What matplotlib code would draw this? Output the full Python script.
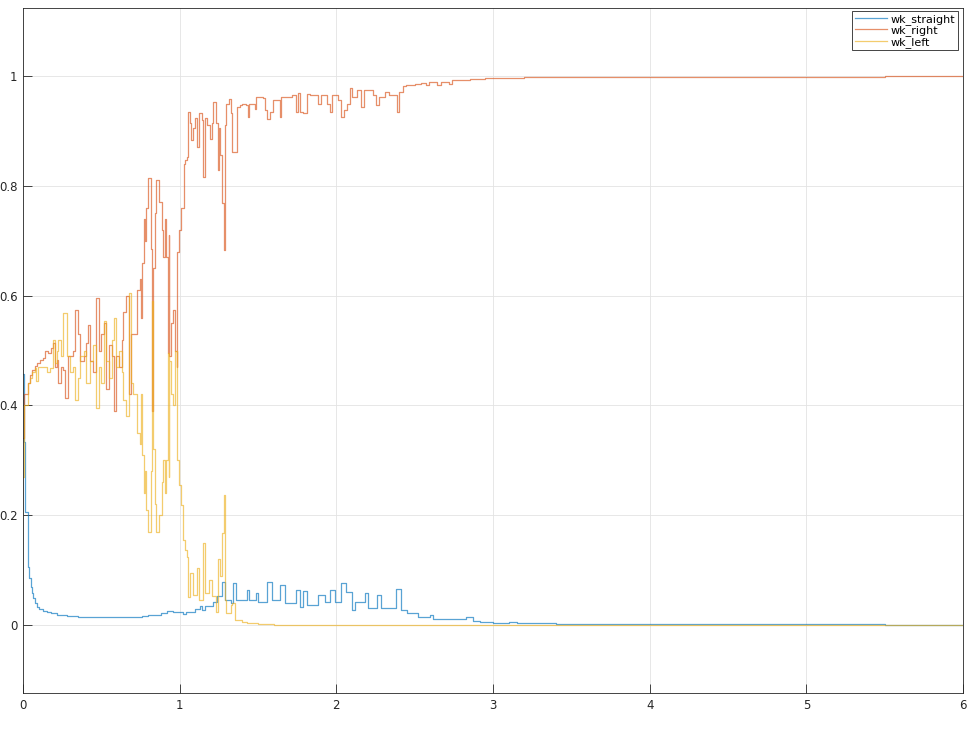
import matplotlib
matplotlib.use("Agg")
import matplotlib.pyplot as plt
import numpy as np

# ---- data (step breakpoints) ----
t_straight = [0.000, 0.008, 0.013, 0.030, 0.040, 0.048, 0.056, 0.066, 0.076, 0.088,
              0.105, 0.125, 0.150, 0.180, 0.220, 0.280, 0.350, 0.450, 0.600, 0.700,
              0.760, 0.800, 0.850, 0.880, 0.920, 0.960, 1.000, 1.020, 1.040, 1.100,
              1.130, 1.140, 1.160, 1.210, 1.240, 1.270, 1.290, 1.330, 1.340, 1.360,
              1.430, 1.445, 1.485, 1.500, 1.555, 1.590, 1.640, 1.670, 1.745, 1.765,
              1.790, 1.815, 1.880, 1.925, 1.960, 1.990, 2.030, 2.060, 2.100, 2.120,
              2.180, 2.200, 2.260, 2.285, 2.380, 2.410, 2.450, 2.520, 2.600, 2.620,
              2.830, 2.870, 2.920, 3.000, 3.100, 3.150, 3.400, 4.000, 5.000, 5.500, 6.000]
wk_straight = [0.458, 0.334, 0.206, 0.106, 0.085, 0.070, 0.058, 0.049, 0.040, 0.033,
               0.029, 0.026, 0.023, 0.021, 0.018, 0.016, 0.015, 0.014, 0.014, 0.015,
               0.016, 0.018, 0.019, 0.022, 0.025, 0.024, 0.024, 0.020, 0.024, 0.029,
               0.035, 0.028, 0.035, 0.042, 0.052, 0.079, 0.045, 0.040, 0.076, 0.046,
               0.064, 0.046, 0.058, 0.042, 0.079, 0.045, 0.073, 0.040, 0.064, 0.033,
               0.061, 0.036, 0.055, 0.042, 0.064, 0.042, 0.076, 0.060, 0.027, 0.042,
               0.058, 0.030, 0.055, 0.030, 0.065, 0.027, 0.021, 0.015, 0.019, 0.011,
               0.015, 0.008, 0.006, 0.004, 0.005, 0.003, 0.002, 0.001, 0.001, 0.0005, 0.000]

t_right = [0.000, 0.006, 0.020, 0.030, 0.045, 0.060, 0.075, 0.090, 0.110, 0.130,
           0.140, 0.160, 0.180, 0.190, 0.205, 0.215, 0.225, 0.240, 0.255, 0.270,
           0.285, 0.320, 0.335, 0.350, 0.365, 0.390, 0.405, 0.415, 0.425, 0.445,
           0.465, 0.485, 0.500, 0.515, 0.530, 0.550, 0.570, 0.580, 0.595, 0.615,
           0.630, 0.640, 0.655, 0.675, 0.690, 0.725, 0.745, 0.752, 0.760, 0.770,
           0.778, 0.785, 0.800, 0.815, 0.822, 0.828, 0.840, 0.850, 0.870, 0.885,
           0.895, 0.905, 0.915, 0.925, 0.930, 0.935, 0.945, 0.960, 0.970, 0.980,
           0.985, 0.995, 1.010, 1.025, 1.035, 1.045, 1.055, 1.065, 1.075, 1.085,
           1.100, 1.110, 1.125, 1.140, 1.150, 1.160, 1.175, 1.195, 1.205, 1.215,
           1.230, 1.242, 1.250, 1.260, 1.272, 1.280, 1.290, 1.297, 1.315, 1.325,
           1.335, 1.365, 1.385, 1.400, 1.425, 1.435, 1.445, 1.480, 1.490, 1.530,
           1.545, 1.555, 1.575, 1.595, 1.640, 1.650, 1.720, 1.740, 1.755, 1.770,
           1.790, 1.810, 1.830, 1.880, 1.900, 1.940, 1.960, 1.975, 2.010, 2.030,
           2.050, 2.065, 2.085, 2.100, 2.130, 2.155, 2.175, 2.235, 2.250, 2.270,
           2.310, 2.335, 2.385, 2.400, 2.425, 2.445, 2.500, 2.540, 2.570, 2.590,
           2.640, 2.670, 2.720, 2.740, 2.800, 2.850, 2.900, 2.950, 3.000, 3.100,
           3.200, 3.400, 3.600, 4.000, 4.500, 5.000, 5.200, 5.500, 6.000]
wk_right = [0.340, 0.420, 0.420, 0.440, 0.455, 0.465, 0.472, 0.478, 0.482, 0.487,
            0.500, 0.496, 0.505, 0.513, 0.470, 0.482, 0.440, 0.470, 0.465, 0.413,
            0.490, 0.500, 0.574, 0.530, 0.480, 0.490, 0.513, 0.547, 0.480, 0.460,
            0.595, 0.500, 0.530, 0.550, 0.430, 0.510, 0.490, 0.390, 0.490, 0.470,
            0.520, 0.570, 0.600, 0.420, 0.530, 0.610, 0.630, 0.560, 0.660, 0.740,
            0.700, 0.760, 0.815, 0.685, 0.390, 0.650, 0.750, 0.810, 0.770, 0.720,
            0.670, 0.740, 0.670, 0.495, 0.710, 0.490, 0.550, 0.574, 0.500, 0.470,
            0.680, 0.720, 0.760, 0.840, 0.847, 0.853, 0.935, 0.914, 0.883, 0.905,
            0.923, 0.871, 0.932, 0.920, 0.817, 0.923, 0.910, 0.886, 0.914, 0.953,
            0.914, 0.829, 0.905, 0.856, 0.768, 0.683, 0.910, 0.950, 0.959, 0.932,
            0.862, 0.944, 0.947, 0.950, 0.947, 0.926, 0.950, 0.940, 0.962, 0.960,
            0.938, 0.921, 0.935, 0.956, 0.926, 0.962, 0.965, 0.935, 0.970, 0.935,
            0.932, 0.968, 0.965, 0.950, 0.965, 0.950, 0.935, 0.965, 0.956, 0.926,
            0.938, 0.950, 0.978, 0.962, 0.975, 0.944, 0.975, 0.965, 0.947, 0.962,
            0.971, 0.965, 0.935, 0.971, 0.982, 0.984, 0.985, 0.988, 0.984, 0.990,
            0.984, 0.990, 0.986, 0.993, 0.992, 0.994, 0.995, 0.996, 0.997, 0.996,
            0.998, 0.998, 0.999, 0.999, 0.999, 0.998, 0.999, 1.000, 1.000]

t_left = [0.000, 0.006, 0.020, 0.030, 0.045, 0.060, 0.075, 0.085, 0.095, 0.130,
          0.150, 0.170, 0.190, 0.205, 0.215, 0.225, 0.240, 0.255, 0.280, 0.300,
          0.320, 0.335, 0.350, 0.365, 0.390, 0.405, 0.425, 0.445, 0.465, 0.485,
          0.500, 0.515, 0.530, 0.550, 0.570, 0.580, 0.595, 0.615, 0.630, 0.640,
          0.655, 0.675, 0.690, 0.705, 0.725, 0.745, 0.752, 0.760, 0.770, 0.778,
          0.785, 0.800, 0.815, 0.822, 0.828, 0.840, 0.850, 0.870, 0.885, 0.895,
          0.905, 0.915, 0.925, 0.930, 0.935, 0.945, 0.960, 0.970, 0.980, 0.985,
          0.995, 1.010, 1.020, 1.035, 1.045, 1.055, 1.065, 1.085, 1.110, 1.125,
          1.150, 1.160, 1.185, 1.205, 1.230, 1.242, 1.260, 1.272, 1.280, 1.290,
          1.297, 1.315, 1.325, 1.335, 1.350, 1.400, 1.430, 1.500, 1.600, 2.000, 6.000]
wk_left = [0.270, 0.400, 0.400, 0.440, 0.450, 0.460, 0.468, 0.445, 0.470, 0.470,
           0.460, 0.468, 0.520, 0.478, 0.500, 0.520, 0.490, 0.568, 0.490, 0.460,
           0.470, 0.410, 0.450, 0.490, 0.500, 0.440, 0.480, 0.510, 0.395, 0.470,
           0.440, 0.553, 0.480, 0.450, 0.520, 0.560, 0.470, 0.500, 0.460, 0.410,
           0.380, 0.605, 0.440, 0.420, 0.350, 0.330, 0.420, 0.310, 0.240, 0.280,
           0.210, 0.170, 0.280, 0.590, 0.320, 0.220, 0.170, 0.200, 0.260, 0.300,
           0.240, 0.300, 0.495, 0.270, 0.480, 0.420, 0.400, 0.500, 0.330, 0.300,
           0.255, 0.218, 0.155, 0.137, 0.124, 0.050, 0.094, 0.055, 0.103, 0.045,
           0.149, 0.058, 0.082, 0.052, 0.024, 0.121, 0.090, 0.167, 0.237, 0.045,
           0.021, 0.021, 0.036, 0.040, 0.009, 0.006, 0.003, 0.001, 0.0003, 0.000, 0.000]

series_names = ["wk_straight", "wk_right", "wk_left"]
x_ticks = [0, 1, 2, 3, 4, 5, 6]
y_ticks = [0, 0.2, 0.4, 0.6, 0.8, 1]
y_ticklabels = ["0", "0.2", "0.4", "0.6", "0.8", "1"]

# ---- plot ----
plt.rcParams['font.family'] = ['DejaVu Sans']
fig = plt.figure(figsize=(9.74, 7.29), dpi=100)
ax = fig.add_axes([23 / 974, 1 - 693 / 729, 940 / 974, 685 / 729])

colors = ["#0072BD", "#D95319", "#EDB120"]
for tt, vv, name, c in zip([t_straight, t_right, t_left],
                           [wk_straight, wk_right, wk_left],
                           series_names, colors):
    ax.plot(tt, vv, drawstyle="steps-post", color=c, lw=0.9, alpha=0.65, label=name)

ax.set_xlim(0, 6)
ax.set_ylim(-0.124, 1.124)
ax.set_xticks(x_ticks)
ax.set_xticklabels([str(v) for v in x_ticks])
ax.set_yticks(y_ticks)
ax.set_yticklabels(y_ticklabels)
ax.grid(True, color="#e3e3e3", lw=0.6)
ax.set_axisbelow(True)
for s in ax.spines.values():
    s.set_color("#262626")
    s.set_linewidth(0.6)
ax.tick_params(direction="in", length=6.5, width=0.6, colors="#262626",
               labelsize=8.5, pad=4, top=False, right=False)

leg = ax.legend(loc="upper right", bbox_to_anchor=(0.9947, 0.9956), borderaxespad=0,
                fontsize=8, fancybox=False, framealpha=1, edgecolor="#262626",
                handlelength=2.9, handletextpad=0.3, borderpad=0.25, labelspacing=0.05)
leg.get_frame().set_linewidth(0.6)

fig.savefig("out.png", dpi=100)
